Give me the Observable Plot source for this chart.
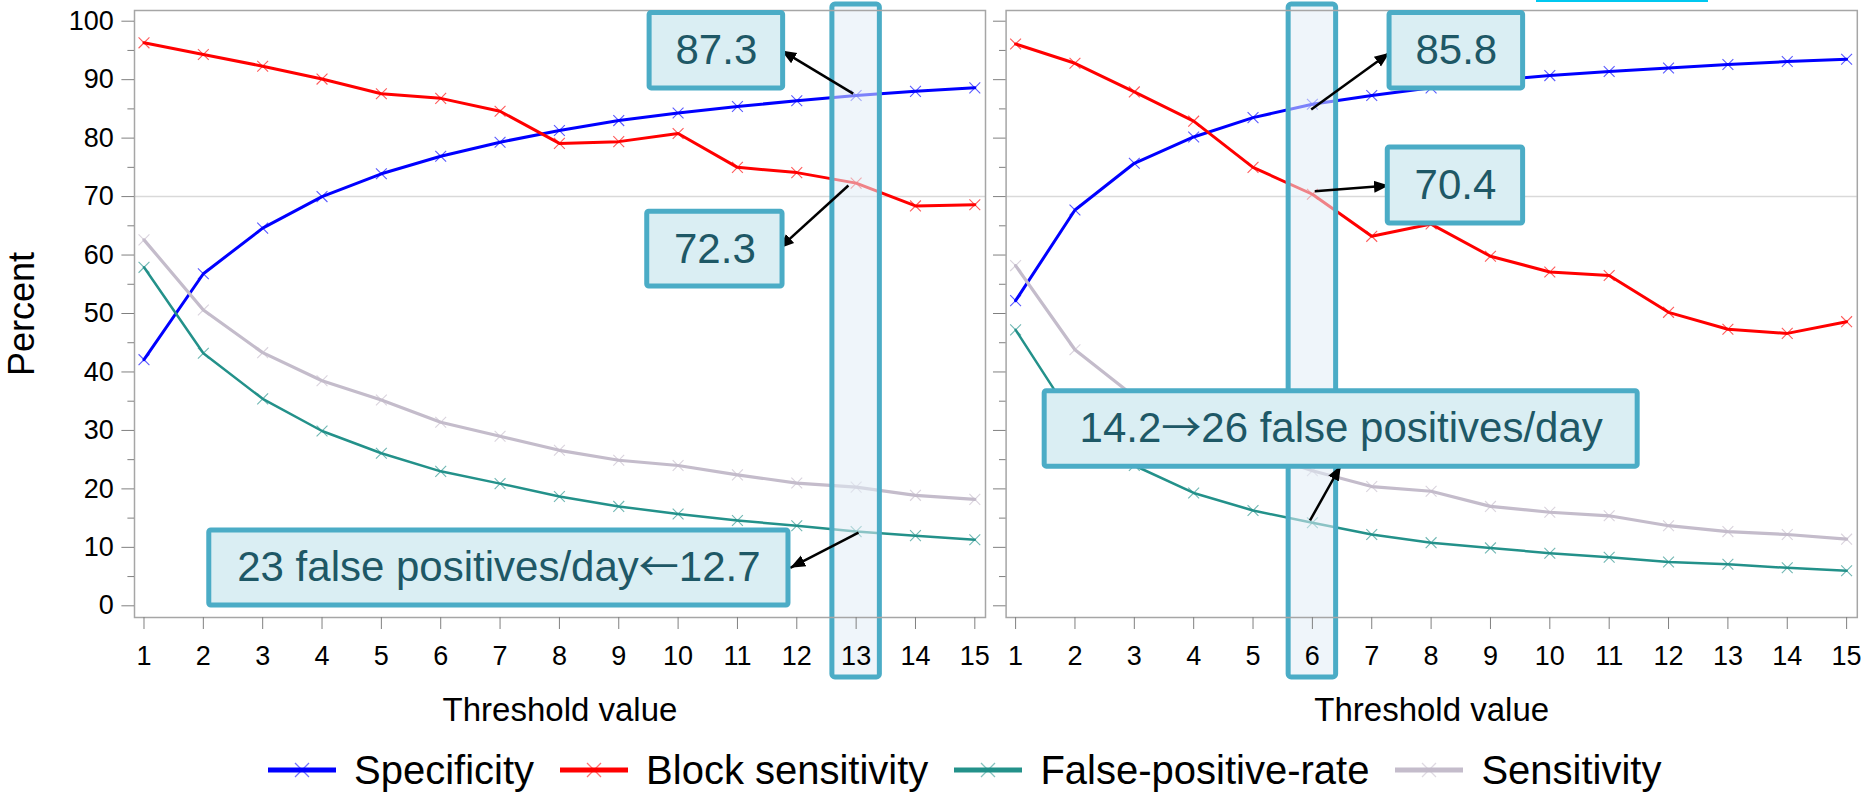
<!DOCTYPE html>
<html>
<head>
<meta charset="utf-8">
<script src="https://cdn.jsdelivr.net/npm/d3@7"></script>
<script src="https://cdn.jsdelivr.net/npm/@observablehq/plot@0.6"></script>
<style>
  html, body { margin: 0; padding: 0; background: #fff; }
  body { width: 1864px; height: 796px; position: relative; overflow: hidden;
         font-family: "Liberation Sans", Arial, Helvetica, sans-serif; }
  #left { position: absolute; left: 0; top: 0; }
  #right { position: absolute; left: 995px; top: 0; }
  #legend { position: absolute; left: 0; top: 745px; width: 1864px; height: 50px;
            display: flex; align-items: center; padding-left: 268px; box-sizing: border-box; }
  .item { display: flex; align-items: center; font-size: 40px; color: #000; margin-right: 26px; white-space: nowrap; }
  .item svg { margin-right: 18px; }
  #topbar { position: absolute; left: 1536px; top: 0; width: 172px; height: 2px; background: #00c8f0; }
</style>
</head>
<body>
<div id="topbar"></div>
<div id="left"></div>
<div id="right"></div>
<div id="legend"></div>
<script>
// ---------- data ----------
const thresholds = [1, 2, 3, 4, 5, 6, 7, 8, 9, 10, 11, 12, 13, 14, 15];
const seriesNames = ["Specificity", "Block sensitivity", "False-positive-rate", "Sensitivity"];
const seriesColors = ["#0000ff", "#ff0000", "#23918a", "#c4bccb"];
const seriesWidths = [3, 3, 2.5, 3.2];

// left panel
const leftSpecificity = [42.1, 56.8, 64.6, 70.0, 73.9, 76.9, 79.3, 81.3, 83.0, 84.3, 85.4, 86.4, 87.3, 88.0, 88.6];
const leftBlockSensitivity = [96.3, 94.3, 92.3, 90.1, 87.6, 86.8, 84.6, 79.1, 79.4, 80.8, 75.0, 74.1, 72.3, 68.4, 68.6];
const leftFalsePositiveRate = [57.9, 43.2, 35.4, 29.9, 26.1, 23.0, 20.9, 18.7, 17.0, 15.7, 14.6, 13.7, 12.7, 12.0, 11.3];
const leftSensitivity = [62.6, 50.6, 43.3, 38.5, 35.2, 31.4, 29.0, 26.6, 24.9, 24.0, 22.4, 21.0, 20.3, 18.9, 18.2];

// right panel
const rightSpecificity = [52.2, 67.7, 75.7, 80.2, 83.5, 85.8, 87.3, 88.6, 89.8, 90.7, 91.4, 92.0, 92.6, 93.1, 93.5];
const rightBlockSensitivity = [96.1, 92.8, 87.9, 82.9, 75.0, 70.4, 63.2, 65.3, 59.8, 57.1, 56.5, 50.2, 47.3, 46.6, 48.6];
const rightFalsePositiveRate = [47.2, 31.5, 24.0, 19.3, 16.3, 14.2, 12.2, 10.8, 9.9, 9.0, 8.3, 7.5, 7.1, 6.5, 6.0];
const rightSensitivity = [58.2, 43.8, 35.8, 30.5, 26.5, 23.1, 20.4, 19.6, 17.0, 16.0, 15.4, 13.7, 12.7, 12.2, 11.4];

// axes
const yTicks = [0, 10, 20, 30, 40, 50, 60, 70, 80, 90, 100];
const yMinorTicks = [5, 15, 25, 35, 45, 55, 65, 75, 85, 95];
const xTicks = thresholds;
const referenceLine = [70];

// highlighted thresholds
const leftHighlight = [13];
const rightHighlight = [6];

// annotations (data coordinates): box, label, and arrow from point to box
const leftNotes = [
  {text: "87.3", x1: 9.52, x2: 11.77, y1: 88.5, y2: 101.4, ax1: 12.95, ay1: 87.6, ax2: 11.74, ay2: 95.0},
  {text: "72.3", x1: 9.48, x2: 11.76, y1: 54.6, y2: 67.4, ax1: 12.87, ay1: 71.9, ax2: 11.70, ay2: 61.1},
  {text: "23 false positives/day\u219012.7", x1: 2.10, x2: 11.86, y1: 0.05, y2: 12.9, ax1: 13.04, ay1: 12.5, ax2: 11.89, ay2: 6.5}
];
const rightNotes = [
  {text: "85.8", x1: 7.30, x2: 9.55, y1: 88.5, y2: 101.4, ax1: 5.98, ay1: 84.9, ax2: 7.30, ay2: 94.6},
  {text: "70.4", x1: 7.27, x2: 9.55, y1: 65.4, y2: 78.4, ax1: 6.04, ay1: 70.9, ax2: 7.29, ay2: 71.9},
  {text: "14.2\u219226 false positives/day", x1: 1.49, x2: 11.48, y1: 23.8, y2: 36.7, ax1: 5.96, ay1: 14.6, ax2: 6.48, ay2: 24.0}
];

// ---------- drawing ----------
const FONT = '"Liberation Sans", Arial, Helvetica, sans-serif';

function arrowMarker(color, context) {
  const ns = "http://www.w3.org/2000/svg";
  const doc = (context && context.document) || document;
  const m = doc.createElementNS(ns, "marker");
  m.setAttribute("viewBox", "-10 -5 10 10");
  m.setAttribute("markerWidth", "6");
  m.setAttribute("markerHeight", "6");
  m.setAttribute("refX", "0");
  m.setAttribute("refY", "0");
  m.setAttribute("orient", "auto");
  const p = doc.createElementNS(ns, "path");
  p.setAttribute("d", "M-10,-4L0,0L-10,4Z");
  p.setAttribute("fill", color);
  p.setAttribute("stroke", "none");
  m.appendChild(p);
  return m;
}

function panel({series, notes, highlight, width, marginLeft, marginRight, showYLabels, marker}) {
  const data = series.flatMap((vals, k) => thresholds.map((t, i) => ({t, v: vals[i], s: seriesNames[k]})));
  const marks = [
    Plot.ruleY(referenceLine, {stroke: "#d9d9d9", strokeWidth: 1.5}),
    ...seriesNames.map((name, k) => Plot.line(data.filter(d => d.s === name), {
      x: "t", y: "v", stroke: seriesColors[k], strokeWidth: seriesWidths[k]
    })),
    ...seriesNames.map((name, k) => Plot.dot(data.filter(d => d.s === name), {
      x: "t", y: "v", symbol: "times", r: 5, stroke: seriesColors[k], strokeWidth: 1.1, strokeOpacity: 0.65
    })),
    Plot.rect(highlight, {
      x1: d => d - 0.4, x2: d => d + 0.4, y1: () => -12.26, y2: () => 102.85,
      fill: "#e1edf5", fillOpacity: 0.55, stroke: "#4bacc6", strokeWidth: 5, rx: 3
    }),
    Plot.frame({stroke: "#a6a6a6", strokeWidth: 1.5}),
    Plot.axisX({ticks: xTicks, tickSize: 12, tickPadding: 16, stroke: "#808080", fill: "#000", label: null, fontSize: 27}),
    Plot.axisY({ticks: yTicks, tickSize: 12.6, tickPadding: 8, stroke: "#808080", fill: "#000", label: null, fontSize: 27,
                tickFormat: showYLabels ? (d => String(d)) : (() => "")}),
    Plot.axisY({ticks: yMinorTicks, tickSize: 6.6, stroke: "#808080", label: null, tickFormat: () => ""}),
    Plot.link(notes, {x1: "ax1", y1: "ay1", x2: "ax2", y2: "ay2", stroke: "#000", strokeWidth: 2.5, markerEnd: marker}),
    Plot.rect(notes, {x1: "x1", x2: "x2", y1: "y1", y2: "y2", fill: "#daeef3", stroke: "#4bacc6", strokeWidth: 5, rx: 2}),
    Plot.text(notes, {x: d => (d.x1 + d.x2) / 2, y: d => (d.y1 + d.y2) / 2, text: "text", fill: "#1e5866", fontSize: 42}),
    Plot.text(["Threshold value"], {frameAnchor: "bottom", lineAnchor: "middle", dy: 93, text: d => d, fontSize: 33, fill: "#000"})
  ];
  if (showYLabels) {
    marks.push(Plot.text(["Percent"], {frameAnchor: "left", textAnchor: "middle", lineAnchor: "middle",
                                       dx: -112, rotate: -90, text: d => d, fontSize: 36, fill: "#000"}));
  }
  return Plot.plot({
    width, height: 730,
    marginLeft, marginRight, marginTop: 10, marginBottom: 113,
    x: {domain: [0.84, 15.18]},
    y: {domain: [-2.0, 101.83]},
    style: {fontFamily: FONT, fontSize: "27px", background: "transparent", overflow: "visible", color: "#000"},
    marks
  });
}

function build(marker) {
  const left = panel({
    series: [leftSpecificity, leftBlockSensitivity, leftFalsePositiveRate, leftSensitivity],
    notes: leftNotes, highlight: leftHighlight, width: 995, marginLeft: 134, marginRight: 10, showYLabels: true, marker
  });
  const right = panel({
    series: [rightSpecificity, rightBlockSensitivity, rightFalsePositiveRate, rightSensitivity],
    notes: rightNotes, highlight: rightHighlight, width: 869, marginLeft: 10.6, marginRight: 7.2, showYLabels: false, marker
  });
  return [left, right];
}

// render arrows inside annotation text with a font whose arrow glyph is a thin full-width arrow
function widenArrows(svg) {
  const ns = "http://www.w3.org/2000/svg";
  svg.querySelectorAll("text").forEach(t => {
    if (t.children.length || !/[\u2190\u2192]/.test(t.textContent)) return;
    const parts = t.textContent.split(/([\u2190\u2192])/);
    t.textContent = "";
    parts.forEach(p => {
      if (!p) return;
      const s = document.createElementNS(ns, "tspan");
      s.textContent = p;
      if (/[\u2190\u2192]/.test(p)) {
        s.setAttribute("font-family", '"Noto Sans CJK SC", "DejaVu Sans", sans-serif');
        s.setAttribute("font-size", "40");
      }
      t.appendChild(s);
    });
  });
}

let plots;
try { plots = build(arrowMarker); } catch (e) { plots = build("arrow"); }
plots.forEach(widenArrows);
document.getElementById("left").appendChild(plots[0]);
document.getElementById("right").appendChild(plots[1]);

// legend
const legend = document.getElementById("legend");
seriesNames.forEach((name, k) => {
  const item = document.createElement("div");
  item.className = "item";
  const c = seriesColors[k];
  item.innerHTML =
    `<svg width="68" height="20" viewBox="0 0 68 20">
       <line x1="0" y1="10" x2="68" y2="10" stroke="${c}" stroke-width="5"/>
       <path d="M27,3L41,17M41,3L27,17" stroke="${c}" stroke-opacity="0.55" stroke-width="1.3" fill="none"/>
     </svg><span>${name}</span>`;
  legend.appendChild(item);
});
</script>
</body>
</html>
